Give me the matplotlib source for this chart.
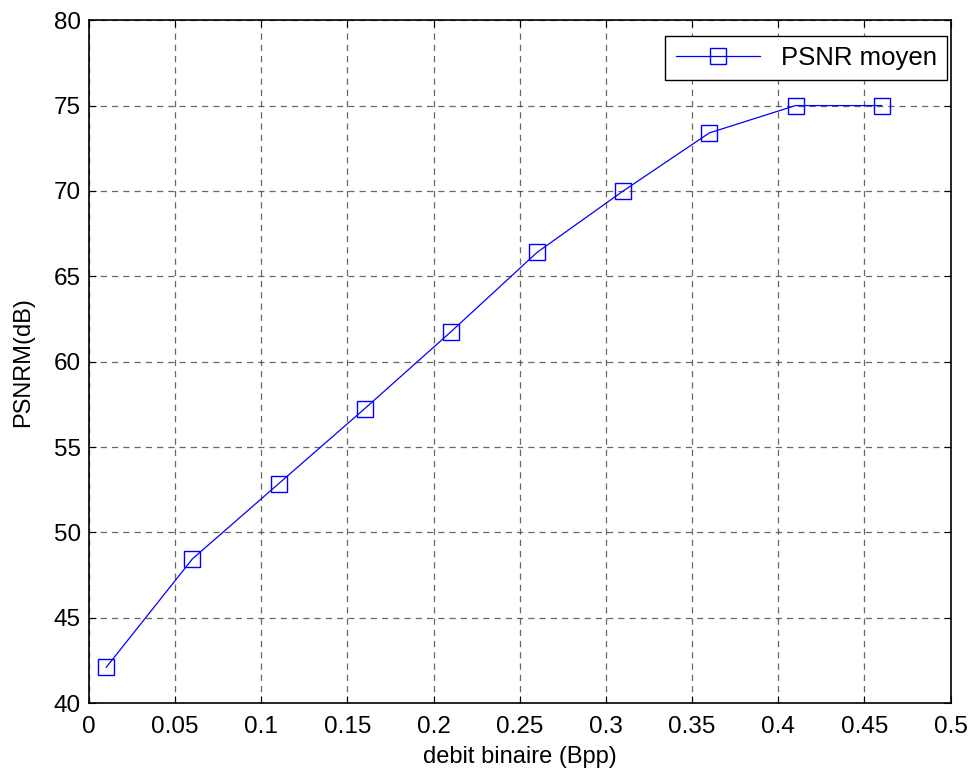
import matplotlib
matplotlib.use("Agg")
import matplotlib.pyplot as plt

plt.rcParams['font.family'] = ['Liberation Sans', 'DejaVu Sans']

# debit binaire (Bpp) vs PSNR moyen (dB)
debit = [0.01, 0.06, 0.11, 0.16, 0.21, 0.26, 0.31, 0.36, 0.41, 0.46]
psnr = [42.1, 48.45, 52.85, 57.25, 61.75, 66.4, 70.0, 73.4, 75.0, 75.0]

x_ticks = [0, 0.05, 0.1, 0.15, 0.2, 0.25, 0.3, 0.35, 0.4, 0.45, 0.5]
x_labels = ['0', '0.05', '0.1', '0.15', '0.2', '0.25', '0.3', '0.35', '0.4', '0.45', '0.5']
y_ticks = [40, 45, 50, 55, 60, 65, 70, 75, 80]

fig = plt.figure(figsize=(9.78, 7.77), dpi=100)
ax = fig.add_axes([0.091, 0.095, 0.881, 0.879])

ax.plot(debit, psnr, color='#0000ff', linewidth=0.9, marker='s', markersize=12,
        markerfacecolor='none', markeredgecolor='#0000ff', markeredgewidth=1.0,
        label='PSNR moyen')

ax.set_xlim(0, 0.5)
ax.set_ylim(40, 80)
ax.set_xticks(x_ticks)
ax.set_xticklabels(x_labels)
ax.set_yticks(y_ticks)

ax.grid(True, color='#444444', linestyle=(0, (5, 4)), linewidth=0.9, alpha=0.8)
ax.tick_params(direction='in', top=True, right=True, labelsize=17.5, length=5, width=0.8)
ax.tick_params(axis='x', pad=9)
ax.tick_params(axis='y', pad=6)
for s in ax.spines.values():
    s.set_linewidth(1.2)

ax.set_xlabel('debit binaire (Bpp)', fontsize=17, labelpad=6)
ax.set_ylabel('PSNRM(dB)', fontsize=17, labelpad=14)

leg = ax.legend(loc='upper right', bbox_to_anchor=(0.996, 0.977), fontsize=18.5,
                fancybox=False, framealpha=1, edgecolor='black',
                borderpad=0.4, handlelength=3.3, borderaxespad=0)
leg.get_frame().set_linewidth(1.0)

fig.savefig('out.png', dpi=100)
